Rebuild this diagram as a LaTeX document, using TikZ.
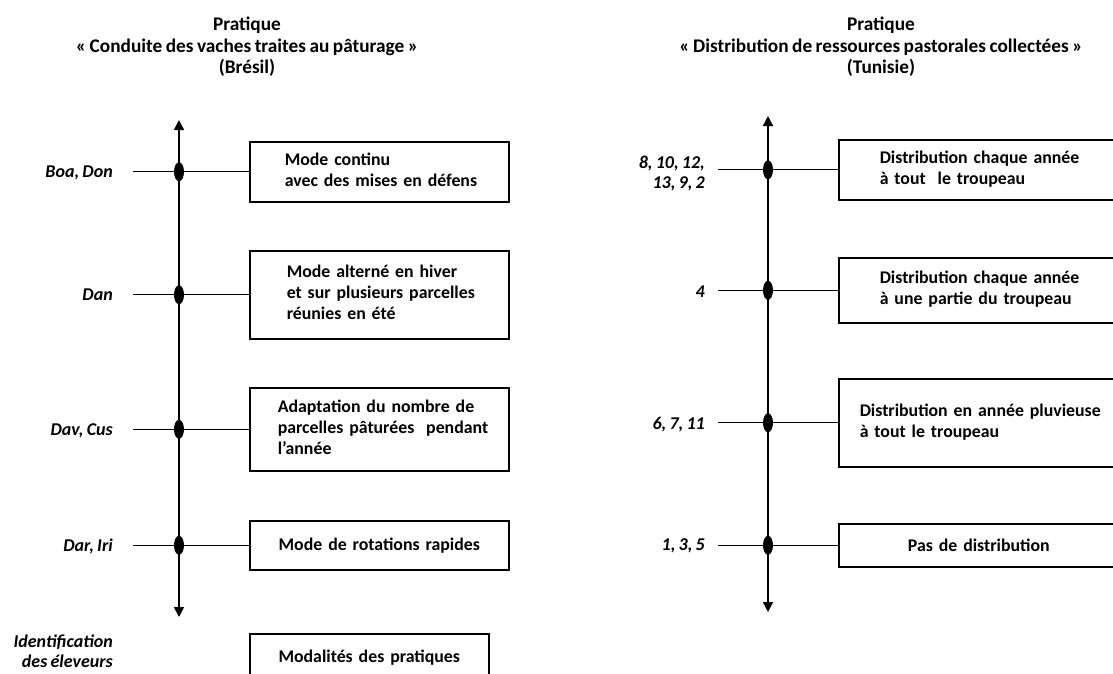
\documentclass[tikz,border=0pt]{standalone}
\usepackage{fontspec}
\setmainfont{Carlito}[WordSpace=0.8]
\usetikzlibrary{shapes.geometric,arrows.meta}
\tikzset{
  txt/.style={font=\fontsize{17.8}{21}\selectfont\bfseries, inner sep=0pt},
  ttl/.style={font=\fontsize{19.3}{21.5}\selectfont\bfseries, inner sep=0pt, align=center},
  lab/.style={font=\fontsize{18}{20}\selectfont\bfseries\itshape, inner sep=0pt, anchor=east, align=right},
  box/.style={txt, draw, line width=1.5pt, anchor=north west},
  dot/.style={ellipse, fill=black, inner sep=0pt, minimum width=10pt, minimum height=19pt},
  conn/.style={line width=1.3pt},
  axis/.style={line width=1.6pt, arrows={Triangle[width=10pt,length=10pt]-Triangle[width=10pt,length=10pt]}}
}
\begin{document}
\begin{tikzpicture}[x=1pt,y=-1pt]
\useasboundingbox (0,0) rectangle (1113,673);
\clip (0,0) rectangle (1113,673);
% titles
\node[ttl] (t1) at (247,47) {Pratique\\« Conduite des vaches traites au pâturage »\\(Brésil)};
\node[ttl] (t2) at (881,47) {Pratique\\« Distribution de ressources pastorales collectées »\\(Tunisie)};
% left axis
\coordinate (la) at (179,120);
\coordinate (lz) at (179,617);
\draw[axis] (lz) -- (la);
% left boxes
\node[box, minimum width=259pt, minimum height=60pt, text width=259pt, align=left] (b1) at (249,141)
  {\hspace*{35pt}\begin{tabular}{@{}l@{}}Mode continu\\avec des mises en défens\end{tabular}};
\node[box, minimum width=259pt, minimum height=88pt, text width=259pt, align=left] (b2) at (249,250)
  {\hspace*{37pt}\begin{tabular}{@{}l@{}}Mode alterné en hiver\\et sur plusieurs parcelles\\réunies en été\end{tabular}};
\node[box, minimum width=259pt, minimum height=83pt, text width=259pt, align=left] (b3) at (249,387)
  {\hspace*{28pt}\begin{tabular}{@{}l@{}}Adaptation du nombre de\\parcelles pâturées~ pendant\\l’année\end{tabular}};
\node[box, minimum width=259pt, minimum height=49pt, text width=259pt, align=center] (b4) at (249,520)
  {Mode de rotations rapides};
\node[box, minimum width=239pt, minimum height=48pt, text width=239pt, align=center] (b5) at (249,633)
  {Modalités des pratiques};
% left labels
\node[lab] (n1) at (113,173) {Boa, Don};
\node[lab] (n2) at (113,295) {Dan};
\node[lab] (n3) at (113,431) {Dav, Cus};
\node[lab] (n4) at (113,546) {Dar, Iri};
\node[lab] (n5) at (113,651) {Identification\\des éleveurs};
% left connectors
\foreach \i in {1,2,3,4} {
  \coordinate (ls\i) at (133,0 |- b\i.west);
  \draw[conn] (ls\i) -- (b\i.west);
  \node[dot] (ld\i) at (la |- b\i.west) {};
}
% right axis
\coordinate (ra) at (768,116);
\coordinate (rz) at (768,612);
\draw[axis] (rz) -- (ra);
% right boxes
\node[box, minimum width=280pt, minimum height=60pt, text width=280pt, align=left] (c1) at (838,139)
  {\hspace*{41pt}\begin{tabular}{@{}l@{}}Distribution chaque année\\à tout~ le troupeau\end{tabular}};
\node[box, minimum width=280pt, minimum height=65pt, text width=280pt, align=left] (c2) at (838,257)
  {\hspace*{41pt}\begin{tabular}{@{}l@{}}Distribution chaque année\\à une partie du troupeau\end{tabular}};
\node[box, minimum width=280pt, minimum height=88pt, text width=280pt, align=left] (c3) at (838,378)
  {\hspace*{21pt}\begin{tabular}{@{}l@{}}Distribution en année pluvieuse\\à tout le troupeau\end{tabular}};
\node[box, minimum width=280pt, minimum height=43pt, text width=280pt, align=center] (c4) at (838,523)
  {Pas de distribution};
% right labels
\node[lab] (m1) at (705,174) {8, 10, 12,\\13, 9, 2};
\node[lab] (m2) at (705,292) {4};
\node[lab] (m3) at (705,425) {6, 7, 11};
\node[lab] (m4) at (705,546) {1, 3, 5};
% right connectors
\foreach \i in {1,2,3,4} {
  \coordinate (rs\i) at (718,0 |- c\i.west);
  \draw[conn] (rs\i) -- (c\i.west);
  \node[dot] (rd\i) at (ra |- c\i.west) {};
}
\end{tikzpicture}
\end{document}
